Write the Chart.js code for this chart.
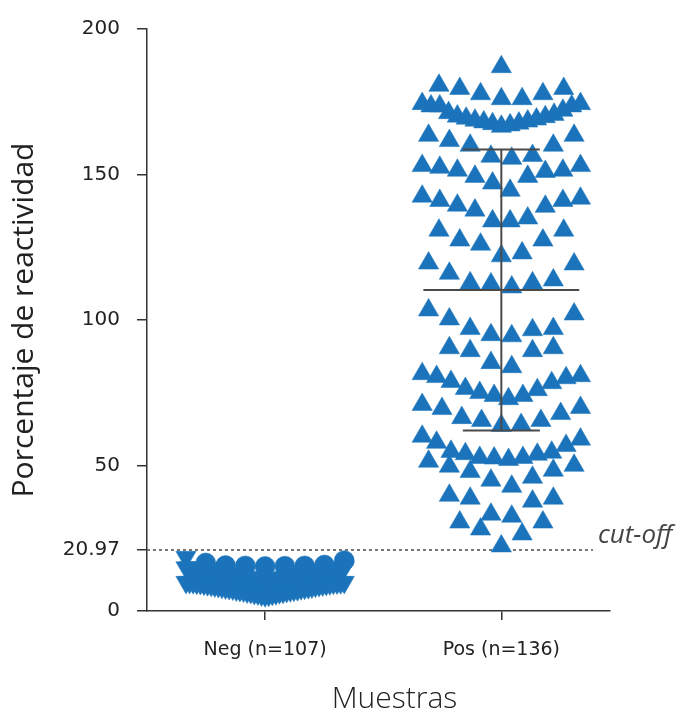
<!DOCTYPE html>
<html>
<head>
<meta charset="utf-8">
<script src="https://cdn.jsdelivr.net/npm/chart.js@4"></script>
<style>
  html, body { margin: 0; padding: 0; background: #fff; }
  #wrap { width: 687px; height: 713px; position: relative; }
</style>
</head>
<body>
<div id="wrap"><canvas id="c" width="687" height="713"></canvas></div>
<script>
// ---------------- data ----------------
const categories = ['Neg (n=107)', 'Pos (n=136)'];
const yTickValues = [0, 20.97, 50, 100, 150, 200];
const cutoff = 20.97;
const cutoffLabel = 'cut-off';
const xTitle = 'Muestras';
const yTitle = 'Porcentaje de reactividad';

// Negative samples (% reactivity), estimated from the overlapping cluster
const negValues = [
  5.3, 5.5, 5.6, 5.8, 5.9, 6.0, 6.1, 6.3, 6.4, 6.5, 6.6, 6.8, 6.9, 7.0, 7.1,
  7.2, 7.3, 7.4, 7.6, 7.7, 7.8, 7.9, 8.0, 8.1, 8.2, 8.3, 8.5, 8.6, 8.7, 8.8,
  8.9, 9.0, 9.1, 9.2, 9.3, 9.4, 9.5, 9.6, 9.6, 9.7, 9.8, 9.8, 9.9, 9.9, 9.9,
  10.3, 10.5, 10.6, 10.7, 10.8, 10.9, 11.0, 11.1, 11.2, 11.3, 11.4, 11.5, 11.6,
  11.7, 11.8, 11.9, 12.0, 12.1, 12.2, 12.3, 12.4, 12.5, 12.6, 12.7, 12.8, 12.9,
  13.0, 13.1, 13.2, 13.3, 13.4, 13.5, 13.6, 13.7, 13.8, 13.9, 14.0, 14.1, 14.2,
  14.3, 14.3, 14.4, 14.5, 14.5, 14.6, 14.6, 14.7, 14.7, 14.8, 14.8, 14.9, 14.9, 14.9,
  15.3, 15.4, 15.5, 15.5, 15.6, 15.8, 16.5, 17.3, 18.5
];

// Positive samples (% reactivity)
const posValues = [
  187, 180.6, 179.5, 179.5, 177.7, 176, 176, 177.7, 173.5, 173.5, 174.3, 174.3, 173.5, 172,
  171.2, 170.6, 170.0, 169.3, 168.6, 168.0, 167.4, 166.5, 167.0, 167.6, 168.3, 169.0, 169.8,
  163.4, 160, 160, 161.6, 163.4,
  156.5, 155.5, 156.2, 153, 151.4, 151, 151.4, 152.4, 153,
  149.3, 149.3, 147, 144.5, 141.8, 142.5, 141, 139, 137.7, 139.4, 141,
  135, 134, 134, 130.8, 127.4, 126, 127.4, 130.8,
  123, 122, 119.2, 119.5, 116, 113.7, 112.7, 111.3, 112.3, 112.7,
  103.4, 100.3, 102, 97, 94.9, 94.5, 96.6, 97,
  89.4, 90.4, 90.4, 89.4, 83.9, 85.3, 80.5, 78.8, 81.5, 80.8, 80.1, 78.4,
  76.4, 75, 74, 72.9, 74, 76, 70.9, 69.5, 69.9, 67.8, 66.4, 65.4, 63.7, 64, 65.4,
  60, 59, 57.9, 56.8, 54.8, 53.8, 52.7, 52.5, 52, 52.7, 54, 54.5,
  49.7, 48.3, 50, 51.4, 47.9, 45.9, 44.9, 42.8,
  39.7, 38.7, 37.7, 38.7, 33.2, 32.5, 30.5, 30.5, 28.1, 26.4, 22.3
];

// Pos summary bars (mean ± SD)
const posMean = 110.3;
const posSD = 48.3;

// ---------------- styling / layout constants ----------------
const BLUE = '#1b74bb';
const AXIS = '#333333';
const STEP = 0.088;        // x-units between neighbouring symbols (~21 px)
const MAX_HALF = 0.335;    // max half width of a swarm row in x-units
const NEG_ROW_SPAN = 5;    // value span grouped in one row
const POS_ROW_SPAN = 9;

// beeswarm layout in GraphPad-like rows: lowest value of a row in the centre
function swarm(values, center, rowSpan) {
  const sorted = values.slice().sort((a, b) => a - b);
  const rows = [];
  let cur = null;
  sorted.forEach(v => {
    if (!cur || v >= cur.start + rowSpan) { cur = { start: v, vs: [] }; rows.push(cur); }
    cur.vs.push(v);
  });
  const pts = [];
  rows.forEach(r => {
    const n = r.vs.length;
    const step = n > 1 ? Math.min(STEP, 2 * MAX_HALF / (n - 1)) : 0;
    const slots = Array.from({ length: n }, (_, j) => (j - (n - 1) / 2) * step);
    slots.sort((a, b) => (Math.abs(a) - Math.abs(b)) || (b - a));
    r.vs.forEach((v, i) => pts.push({ x: center + slots[i], y: v }));
  });
  return pts;
}

const negPoints = swarm(negValues, 0, NEG_ROW_SPAN);
const posPoints = swarm(posValues, 1, POS_ROW_SPAN);

const isNegCircle = v => v >= 15 && v < 18;

const overlay = {
  id: 'overlay',
  beforeDatasetsDraw(chart) {
    const { ctx, scales: { y }, chartArea } = chart;
    const yp = y.getPixelForValue(cutoff);
    ctx.save();
    ctx.strokeStyle = '#555';
    ctx.lineWidth = 1.6;
    ctx.setLineDash([3, 3]);
    ctx.beginPath();
    ctx.moveTo(chartArea.left, yp);
    ctx.lineTo(chartArea.right - 17, yp);
    ctx.stroke();
    ctx.setLineDash([]);
    ctx.fillStyle = '#444';
    ctx.font = 'italic 400 26px "Open Sans"';
    ctx.textAlign = 'left';
    ctx.textBaseline = 'alphabetic';
    ctx.fillText(cutoffLabel, chartArea.right - 12, yp - 7);
    ctx.restore();
  },
  afterDatasetsDraw(chart) {
    const { ctx, scales: { x, y } } = chart;
    const cx = x.getPixelForValue(1);
    const yTop = y.getPixelForValue(posMean + posSD);
    const yBot = y.getPixelForValue(posMean - posSD);
    const yMid = y.getPixelForValue(posMean);
    const halfMean = x.getPixelForValue(1 + 0.33) - cx;
    const halfCap = x.getPixelForValue(1 + 0.163) - cx;
    ctx.save();
    ctx.strokeStyle = '#4a4a4a';
    ctx.lineWidth = 2;
    ctx.beginPath();
    ctx.moveTo(cx, yTop); ctx.lineTo(cx, yBot);
    ctx.moveTo(cx - halfCap, yTop); ctx.lineTo(cx + halfCap, yTop);
    ctx.moveTo(cx - halfCap, yBot); ctx.lineTo(cx + halfCap, yBot);
    ctx.moveTo(cx - halfMean, yMid); ctx.lineTo(cx + halfMean, yMid);
    ctx.stroke();
    ctx.restore();
  },
  afterDraw(chart) {
    const { ctx, chartArea } = chart;
    ctx.save();
    ctx.fillStyle = '#222';
    ctx.font = '300 30px "Open Sans"';
    ctx.textAlign = 'center';
    ctx.textBaseline = 'middle';
    ctx.fillText(xTitle, (chartArea.left + chartArea.right) / 2 + 16, chart.height - 14);
    ctx.restore();
  }
};

new Chart(document.getElementById('c'), {
  type: 'scatter',
  data: {
    datasets: [
      {
        label: categories[0],
        data: negPoints,
        backgroundColor: BLUE,
        borderColor: BLUE,
        pointBorderWidth: 0.5,
        pointStyle: ctx => (ctx.raw && isNegCircle(ctx.raw.y)) ? 'circle' : 'triangle',
        pointRotation: ctx => (ctx.raw && isNegCircle(ctx.raw.y)) ? 0 : 180,
        pointRadius: ctx => (ctx.raw && isNegCircle(ctx.raw.y)) ? 10 : 11.7
      },
      {
        label: categories[1],
        data: posPoints,
        backgroundColor: BLUE,
        borderColor: BLUE,
        pointBorderWidth: 0.5,
        pointStyle: 'triangle',
        pointRadius: 11.7
      }
    ]
  },
  options: {
    responsive: false,
    animation: false,
    devicePixelRatio: 1,
    layout: { padding: { top: 27, right: 77, left: 0, bottom: 0 } },
    plugins: { legend: { display: false }, tooltip: { enabled: false } },
    scales: {
      x: {
        type: 'linear',
        min: -0.5, max: 1.46,
        afterBuildTicks: s => { s.ticks = [{ value: 0 }, { value: 1 }]; },
        afterFit: s => { s.height = 102; },
        ticks: {
          callback: (v, i) => categories[i],
          color: '#222',
          font: { family: '"DejaVu Sans"', size: 19 },
          padding: 19,
          maxRotation: 0
        },
        grid: { drawOnChartArea: false, tickLength: 9, color: AXIS, lineWidth: 1.5 },
        border: { color: AXIS, width: 1.5 },
        title: { display: false }
      },
      y: {
        min: 0, max: 200,
        afterBuildTicks: s => { s.ticks = yTickValues.map(v => ({ value: v })); },
        afterFit: s => { s.width = 147; },
        ticks: {
          callback: v => String(v),
          color: '#222',
          font: { family: '"DejaVu Sans"', size: 20 },
          padding: 17
        },
        grid: { drawOnChartArea: false, tickLength: 10, color: AXIS, lineWidth: 1.5 },
        border: { color: AXIS, width: 1.5 },
        title: {
          display: true, text: yTitle, color: '#222',
          font: { family: '"Open Sans"', size: 30, weight: '400', lineHeight: 1.2 },
          padding: { top: 6, bottom: 0 }
        }
      }
    }
  },
  plugins: [overlay]
});
</script>
</body>
</html>
